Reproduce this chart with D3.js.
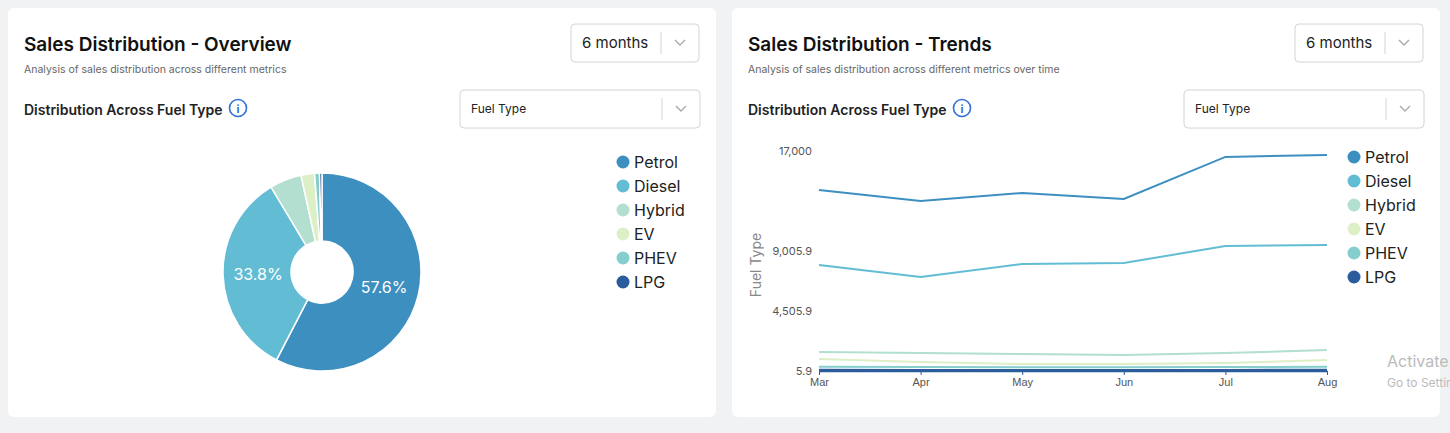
<!DOCTYPE html>
<html lang="en">
<head>
<meta charset="UTF-8">
<title>Sales Distribution</title>
<script src="https://d3js.org/d3.v7.min.js"></script>
<style>
  body{margin:0;background:#f1f2f4;font-family:Inter,"Noto Sans",sans-serif;}
</style>
</head>
<body>
<svg id="canvas" width="1450" height="433"></svg>
<script>
const fuelTypes = ["Petrol","Diesel","Hybrid","EV","PHEV","LPG"];
const colors = ["#3d8fc0","#62bdd4","#b2dfcf","#ddefc7","#86cece","#2b5c9b"];
const sharePct = [57.6,33.8,5.2,2.2,0.8,0.4];
const months = ["Mar","Apr","May","Jun","Jul","Aug"];
const yTicks = [5.9,4505.9,9005.9,17000];
const seriesValues = {
  Petrol:[13890,13000,13650,13170,16530,16690],
  Diesel:[7960,7060,8030,8110,9400,9490],
  Hybrid:[1430,1350,1280,1200,1350,1580],
  EV:[900,680,530,530,600,830],
  PHEV:[330,300,290,290,300,320],
  LPG:[80,70,70,70,70,80]
};

const svg = d3.select("#canvas");
const color = d3.scaleOrdinal(fuelTypes, colors);

function card(x, title, sub){
  const g = svg.append("g").attr("transform",`translate(${x},8)`);
  g.append("rect").attr("width",708).attr("height",409).attr("rx",6).attr("fill","#fff");
  g.append("text").attr("x",16).attr("y",43).attr("font-size",19).attr("font-weight",600).attr("fill","#111").text(title);
  g.append("text").attr("x",16).attr("y",65).attr("font-size",10.5).attr("fill","#666").text(sub);
  g.append("text").attr("x",16).attr("y",107).attr("font-size",14).attr("font-weight",600).attr("fill","#222").text("Distribution Across Fuel Type");
  // info icon
  g.append("circle").attr("cx",230).attr("cy",100).attr("r",8.5).attr("fill","none").attr("stroke","#2f6fd6").attr("stroke-width",1.6);
  g.append("text").attr("x",230).attr("y",105).attr("text-anchor","middle").attr("font-size",11).attr("font-weight",700).attr("fill","#2f6fd6").text("i");
  // dropdowns
  dropdown(g, 563, 16, 128, 38, "6 months", 15);
  dropdown(g, 452, 82, 240, 38, "Fuel Type", 12);
  return g;
}
function dropdown(g, x, y, w, h, label, fs){
  const d = g.append("g").attr("transform",`translate(${x},${y})`);
  d.append("rect").attr("width",w).attr("height",h).attr("rx",4).attr("fill","#fff").attr("stroke","#d4d4d4");
  d.append("text").attr("x",fs>13?11:11).attr("y",h/2+fs*0.36).attr("font-size",fs).attr("fill","#222").text(label);
  d.append("line").attr("x1",w-38).attr("x2",w-38).attr("y1",8).attr("y2",h-8).attr("stroke","#d4d4d4");
  d.append("path").attr("d",`M${w-24},${h/2-3} l5,5 l5,-5`).attr("fill","none").attr("stroke","#aaa").attr("stroke-width",1.4);
}
function legend(g, x, y){
  fuelTypes.forEach((f,i)=>{
    g.append("circle").attr("cx",x).attr("cy",y+i*24).attr("r",6.5).attr("fill",color(f));
    g.append("text").attr("x",x+11).attr("y",y+i*24+5.5).attr("font-size",16).attr("fill","#222").text(f);
  });
}

// left: donut
const left = card(8,"Sales Distribution - Overview","Analysis of sales distribution across different metrics");
const pie = d3.pie().sort(null).value(d=>d)(sharePct);
const arc = d3.arc().innerRadius(31).outerRadius(99);
const labelArc = d3.arc().innerRadius(64).outerRadius(64);
const pg = left.append("g").attr("transform","translate(314,264)");
pg.selectAll("path").data(pie).join("path").attr("d",arc)
  .attr("fill",(d,i)=>colors[i]).attr("stroke","#fff").attr("stroke-width",1.5);
pg.selectAll("text").data(pie.filter(d=>d.data>20)).join("text")
  .attr("transform",d=>`translate(${labelArc.centroid(d)})`)
  .attr("text-anchor","middle").attr("dy","0.35em").attr("font-size",16).attr("fill","#fff")
  .text(d=>d.data.toFixed(1)+"%");
legend(left, 615, 154);

// right: lines
const right = card(732,"Sales Distribution - Trends","Analysis of sales distribution across different metrics over time");
const x = d3.scalePoint(months,[87,595]);
const y = d3.scaleLinear(yTicks,[363,303,243,143]);
const lg = right.append("g");
lg.append("g").attr("transform","translate(0,363)")
  .call(d3.axisBottom(x).tickSize(4).tickSizeOuter(0))
  .call(a=>{a.select(".domain").attr("stroke","#2b5c9b").attr("stroke-width",1.5);
    a.selectAll("line").attr("stroke","#2b5c9b");
    a.selectAll("text").attr("font-size",11).attr("fill","#555").attr("font-weight",500);});
lg.selectAll(".yt").data(yTicks).join("text").attr("x",80).attr("y",d=>y(d)+4)
  .attr("text-anchor","end").attr("font-size",11).attr("fill","#555").text(d=>d3.format(",")(d));
lg.append("text").attr("transform","translate(29,257) rotate(-90)").attr("text-anchor","middle")
  .attr("font-size",14).attr("fill","#888").text("Fuel Type");
const line = d3.line().x((d,i)=>x(months[i])).y(d=>y(d));
fuelTypes.slice().reverse().forEach(f=>{
  lg.append("path").attr("d",line(seriesValues[f])).attr("fill","none")
    .attr("stroke",color(f)).attr("stroke-width",f==="LPG"?2.5:2);
});
legend(right, 622, 149);
svg.append("text").attr("x",1387).attr("y",367).attr("font-size",16).attr("fill","#bbb").text("Activate");
svg.append("text").attr("x",1387).attr("y",387).attr("font-size",12).attr("fill","#bbb").text("Go to Settings");
</script>
</body>
</html>
